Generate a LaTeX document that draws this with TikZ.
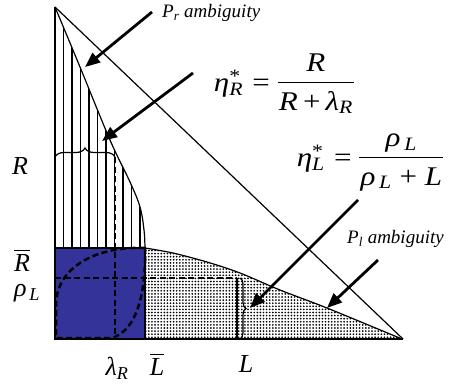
\documentclass[tikz,border=0pt]{standalone}
\usepackage{amsmath}
\usepackage{fontspec}
\setmainfont{Liberation Serif}
\usetikzlibrary{arrows.meta,patterns,decorations.pathreplacing}
\definecolor{sqblue}{RGB}{51,51,153}
\pgfdeclarepatternformonly{densedots}{\pgfqpoint{-1pt}{-1pt}}{\pgfqpoint{1pt}{1pt}}{\pgfqpoint{3.1pt}{3.1pt}}{%
  \pgfpathcircle{\pgfqpoint{0pt}{0pt}}{0.95pt}\pgfusepath{fill}}
\newcommand{\fracbox}[2]{{\setlength{\arrayrulewidth}{1.1pt}\setlength{\tabcolsep}{0pt}%
  \begin{tabular}[c]{@{\hspace{1pt}}c@{\hspace{1pt}}}#1\\[1pt]\hline\rule{0pt}{1.0em}#2\end{tabular}}}
\begin{document}
\begin{tikzpicture}[x=1pt,y=-1pt,
  axis/.style={line width=1.6pt},
  thinline/.style={line width=1.2pt},
  hatch/.style={line width=1.6pt},
  dashline/.style={line width=2.5pt, dash pattern=on 6pt off 3.5pt},
  pointer/.style={line width=2.8pt, -{Triangle[length=15pt,width=12pt]}},
  lab/.style={font=\fontsize{26}{30}\selectfont, inner sep=0pt},
  small/.style={font=\fontsize{19}{22}\selectfont\itshape, inner sep=0pt, anchor=west},
  formula/.style={font=\fontsize{27}{30}\selectfont, inner sep=0pt}]
\useasboundingbox (0,0) rectangle (454,390);

% dotted region
\fill[pattern=densedots] plot[smooth] coordinates {(145,248) (173,253) (207,262) (240,273) (280,290) (327,308) (402,339)} -- (145,339) -- cycle;
\draw[thinline] plot[smooth] coordinates {(145,248) (173,253) (207,262) (240,273) (280,290) (327,308) (402,339)};

% hatched region
\begin{scope}
\clip plot[smooth,tension=0.6] coordinates {(55,7) (80,67) (110,140) (130,182) (140,207) (144,230) (145,248)} -- (55,248) -- cycle;
\foreach \x in {55,63.5,...,150} \draw[hatch] (\x,0) -- (\x,250);
\end{scope}
\draw[thinline] plot[smooth,tension=0.6] coordinates {(55,7) (80,67) (110,140) (130,182) (140,207) (144,230) (145,248)};

% blue square
\fill[sqblue] (55,248) rectangle (145,339);
\draw[thinline] (55,248) rectangle (145,339);

% dashed shapes
\draw[dashline] (145,248) .. controls (95,246) and (56,268) .. (56,305) -- (56,338) -- (112,338) .. controls (138,330) and (146,290) .. (145,248);
\draw[dashline] (115,157) -- (115,339);
\draw[dashline] (55,278) -- (237,278);
\draw[thinline] (237,278) -- (237,339);

% braces
\draw[thinline, decorate, decoration={brace, amplitude=9pt}] (55,157) -- (115,157);
\draw[thinline, decorate, decoration={brace, amplitude=6pt}] (240,278) -- (240,339);

% axes
\draw[axis] (55,7) -- (55,339) -- (403,339);
\draw[thinline] (55,7) -- (403,339);

% labels
\node[lab] (lR) at (20,166) {\textit{R}};
\node[lab] (lRbar) at (22,260) {$\overline{\textit{R}}$};
\node[lab] (lrho) at (27,293) {\textit{ρ}$_{\,\textit{L}}$};
\node[lab] (llam) at (117,368) {\textit{λ}$_{\textit{R}}$};
\node[lab] (lLbar) at (157,364) {$\overline{\textit{L}}$};
\node[lab] (lL) at (246,364) {\textit{L}};

\node[small] (pr) at (162,13) {\textit{P}\textsubscript{\textit{r}} ambiguity};
\node[small] (pl) at (347,239) {\textit{P}\textsubscript{\textit{l}} ambiguity};

\node[formula] (etaR) at (284,85) {\scalebox{1.15}[1]{\textit{η}\rlap{\textsuperscript{*}}\textsubscript{\textit{R}}\hspace{0.3em}=\hspace{0.25em}\fracbox{\textit{R}}{\textit{R}\,+\,\textit{λ}\textsubscript{\textit{R}}}}};
\node[formula] (etaL) at (370,160) {\scalebox{1.15}[1]{\textit{η}\rlap{\textsuperscript{*}}\textsubscript{\textit{L}}\hspace{0.3em}=\hspace{0.25em}\fracbox{\textit{ρ}\textsubscript{\,\textit{L}}}{\textit{ρ}\textsubscript{\,\textit{L}} + \textit{L}}}};

% arrows
\coordinate (a1s) at (152,12);  \coordinate (a1e) at (85,67);
\coordinate (a2s) at (193,73);  \coordinate (a2e) at (102,141);
\coordinate (a3s) at (358,200); \coordinate (a3e) at (250,308);
\coordinate (a4s) at (378,260); \coordinate (a4e) at (327,308);
\draw[pointer] (a1s) -- (a1e);
\draw[pointer] (a2s) -- (a2e);
\draw[pointer] (a3s) -- (a3e);
\draw[pointer] (a4s) -- (a4e);
\end{tikzpicture}
\end{document}
